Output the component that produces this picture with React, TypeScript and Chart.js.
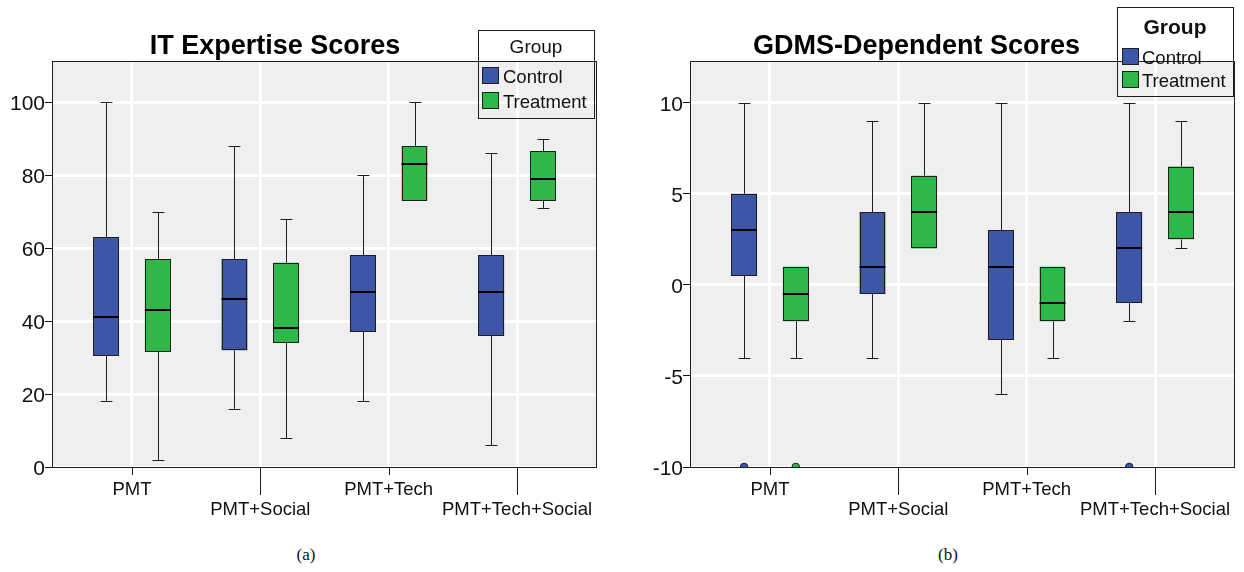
import React, { useEffect, useRef } from 'react';
import { Chart, registerables } from 'chart.js';

Chart.register(...registerables);

// ---------- data ----------
const categories = ['PMT', 'PMT+Social', 'PMT+Tech', 'PMT+Tech+Social'];
const groups = ['Control', 'Treatment'];

// (a) IT Expertise Scores
const itControlMin = [18, 16, 18, 6];
const itControlQ1 = [30.5, 32, 37, 36];
const itControlMedian = [41, 46, 48, 48];
const itControlQ3 = [63, 57, 58, 58];
const itControlMax = [100, 88, 80, 86];
const itControlOutliers: number[][] = [[], [], [], []];

const itTreatmentMin = [2, 8, 73, 71];
const itTreatmentQ1 = [31.5, 34, 73, 73];
const itTreatmentMedian = [43, 38, 83, 79];
const itTreatmentQ3 = [57, 56, 88, 86.5];
const itTreatmentMax = [70, 68, 100, 90];
const itTreatmentOutliers: number[][] = [[], [], [], []];

const itYTicks = [0, 20, 40, 60, 80, 100];

// (b) GDMS-Dependent Scores
const gdControlMin = [-4, -4, -6, -2];
const gdControlQ1 = [0.5, -0.5, -3, -1];
const gdControlMedian = [3, 1, 1, 2];
const gdControlQ3 = [5, 4, 3, 4];
const gdControlMax = [10, 9, 10, 10];
const gdControlOutliers: number[][] = [[-10], [], [], [-10]];

const gdTreatmentMin = [-4, 2, -4, 2];
const gdTreatmentQ1 = [-2, 2, -2, 2.5];
const gdTreatmentMedian = [-0.5, 4, -1, 4];
const gdTreatmentQ3 = [1, 6, 1, 6.5];
const gdTreatmentMax = [1, 10, 1, 9];
const gdTreatmentOutliers: number[][] = [[-10], [], [], []];

const gdYTicks = [-10, -5, 0, 5, 10];

// ---------- styling ----------
const FONT = "'Liberation Sans', Arial, Helvetica, sans-serif";
const COLORS = ['#3d56a8', '#2eb84a'];
const PLOT_BG = '#efefef';
const EDGE = '#1e1e1e';

interface Panel {
  title: string;
  titleX: number;
  titleY: number;
  yMin: number;
  yMax: number;
  yTicks: number[];
  yWidth: number;
  padRight: number;
  lo: number[][];
  q1: number[][];
  med: number[][];
  q3: number[][];
  hi: number[][];
  out: number[][][];
  legend: {
    x: number; y: number; w: number; h: number;
    headerX: number; headerY: number; headerBold: boolean; headerSize: number;
    swX: number; swY: number[]; sw: number; textX: number;
  };
}

const itPanel: Panel = {
  title: 'IT Expertise Scores',
  titleX: 275,
  titleY: 47,
  yMin: 0,
  yMax: 111,
  yTicks: itYTicks,
  yWidth: 53,
  padRight: 24,
  lo: [itControlMin, itTreatmentMin],
  q1: [itControlQ1, itTreatmentQ1],
  med: [itControlMedian, itTreatmentMedian],
  q3: [itControlQ3, itTreatmentQ3],
  hi: [itControlMax, itTreatmentMax],
  out: [itControlOutliers, itTreatmentOutliers],
  legend: {
    x: 478, y: 30, w: 116, h: 88,
    headerX: 536, headerY: 48, headerBold: false, headerSize: 19,
    swX: 482, swY: [67, 92], sw: 17, textX: 503,
  },
};

const gdPanel: Panel = {
  title: 'GDMS-Dependent Scores',
  titleX: 296.5,
  titleY: 47,
  yMin: -10,
  yMax: 12.24,
  yTicks: gdYTicks,
  yWidth: 71,
  padRight: 6,
  lo: [gdControlMin, gdTreatmentMin],
  q1: [gdControlQ1, gdTreatmentQ1],
  med: [gdControlMedian, gdTreatmentMedian],
  q3: [gdControlQ3, gdTreatmentQ3],
  hi: [gdControlMax, gdTreatmentMax],
  out: [gdControlOutliers, gdTreatmentOutliers],
  legend: {
    x: 497, y: 7, w: 116, h: 89,
    headerX: 555, headerY: 28, headerBold: true, headerSize: 21,
    swX: 502, swY: [48, 71], sw: 17, textX: 522,
  },
};

const xLabels = categories.map((c, i) => (i % 2 === 1 ? ['', c] : c));

function makePlugin(p: Panel) {
  return {
    id: 'boxExtras',
    beforeDraw(chart: any) {
      const { ctx, chartArea: a } = chart;
      ctx.save();
      ctx.fillStyle = PLOT_BG;
      ctx.fillRect(a.left, a.top, a.right - a.left, a.bottom - a.top);
      ctx.restore();
    },
    beforeDatasetsDraw(chart: any) {
      const { ctx } = chart;
      const ys = chart.scales.y;
      ctx.save();
      ctx.strokeStyle = EDGE;
      ctx.lineWidth = 1;
      for (let g = 0; g < groups.length; g++) {
        const meta = chart.getDatasetMeta(g);
        meta.data.forEach((el: any, i: number) => {
          const x = Math.round(el.x) + 0.5;
          const half = el.width * 0.23;
          const segs: [number, number][] = [];
          if (p.hi[g][i] > p.q3[g][i]) segs.push([p.hi[g][i], p.q3[g][i]]);
          if (p.lo[g][i] < p.q1[g][i]) segs.push([p.lo[g][i], p.q1[g][i]]);
          segs.forEach(([end, edge]) => {
            const ye = Math.round(ys.getPixelForValue(end)) + 0.5;
            const yb = ys.getPixelForValue(edge);
            ctx.beginPath();
            ctx.moveTo(x, ye);
            ctx.lineTo(x, yb);
            ctx.moveTo(x - half, ye);
            ctx.lineTo(x + half, ye);
            ctx.stroke();
          });
        });
      }
      ctx.restore();
    },
    afterDatasetsDraw(chart: any) {
      const { ctx, chartArea: a } = chart;
      const ys = chart.scales.y;
      ctx.save();
      // box outlines (crisp, dark)
      ctx.strokeStyle = EDGE;
      ctx.lineWidth = 1;
      for (let g = 0; g < groups.length; g++) {
        const meta = chart.getDatasetMeta(g);
        meta.data.forEach((el: any) => {
          const l = Math.round(el.x - el.width / 2) + 0.5;
          const r = Math.round(el.x + el.width / 2) - 0.5;
          const t = Math.round(Math.min(el.y, el.base)) + 0.5;
          const b = Math.round(Math.max(el.y, el.base)) - 0.5;
          ctx.strokeRect(l, t, r - l, b - t);
        });
      }
      // medians
      ctx.strokeStyle = '#000';
      ctx.lineWidth = 2;
      for (let g = 0; g < groups.length; g++) {
        const meta = chart.getDatasetMeta(g);
        meta.data.forEach((el: any, i: number) => {
          const y = Math.round(ys.getPixelForValue(p.med[g][i]));
          ctx.beginPath();
          ctx.moveTo(el.x - el.width / 2, y);
          ctx.lineTo(el.x + el.width / 2, y);
          ctx.stroke();
        });
      }
      // outliers (clipped to plot area)
      ctx.beginPath();
      ctx.rect(a.left, a.top, a.right - a.left, a.bottom - a.top);
      ctx.clip();
      ctx.lineWidth = 1;
      ctx.strokeStyle = EDGE;
      for (let g = 0; g < groups.length; g++) {
        const meta = chart.getDatasetMeta(g);
        meta.data.forEach((el: any, i: number) => {
          p.out[g][i].forEach((v) => {
            ctx.beginPath();
            ctx.arc(el.x, ys.getPixelForValue(v), 3.8, 0, Math.PI * 2);
            ctx.fillStyle = COLORS[g];
            ctx.fill();
            ctx.stroke();
          });
        });
      }
      ctx.restore();
    },
    afterDraw(chart: any) {
      const { ctx, chartArea: a } = chart;
      const xs = chart.scales.x;
      ctx.save();
      // frame
      ctx.strokeStyle = EDGE;
      ctx.lineWidth = 1;
      ctx.strokeRect(a.left - 0.5, a.top - 0.5, a.right - a.left + 1, a.bottom - a.top + 1);
      // staggered x tick marks
      categories.forEach((_, i) => {
        const x = Math.round(xs.getPixelForValue(i)) + 0.5;
        const len = i % 2 === 1 ? 28 : 8;
        ctx.beginPath();
        ctx.moveTo(x, a.bottom);
        ctx.lineTo(x, a.bottom + len);
        ctx.stroke();
      });
      // title
      ctx.fillStyle = '#000';
      ctx.font = `bold 27px ${FONT}`;
      ctx.textAlign = 'center';
      ctx.textBaseline = 'middle';
      ctx.fillText(p.title, p.titleX, p.titleY);
      // legend
      const L = p.legend;
      ctx.strokeStyle = EDGE;
      ctx.lineWidth = 1;
      ctx.strokeRect(L.x + 0.5, L.y + 0.5, L.w, L.h);
      ctx.font = `${L.headerBold ? 'bold ' : ''}${L.headerSize}px ${FONT}`;
      ctx.fillStyle = '#111';
      ctx.fillText('Group', L.headerX, L.headerY);
      ctx.textAlign = 'left';
      ctx.font = `18.5px ${FONT}`;
      chart.data.datasets.forEach((ds: any, g: number) => {
        const y = L.swY[g];
        ctx.fillStyle = COLORS[g];
        ctx.fillRect(L.swX, y, L.sw, L.sw);
        ctx.strokeStyle = EDGE;
        ctx.strokeRect(L.swX + 0.5, y + 0.5, L.sw - 1, L.sw - 1);
        ctx.fillStyle = '#111';
        ctx.fillText(ds.label, L.textX, y + L.sw / 2 + 2.5);
      });
      ctx.restore();
    },
  };
}

function buildConfig(p: Panel): any {
  return {
    type: 'bar',
    data: {
      datasets: groups.map((name, g) => ({
        label: name,
        data: categories.map((_, i) => ({ x: i, y: [p.q1[g][i], p.q3[g][i]] })),
        backgroundColor: COLORS[g],
        borderWidth: 0,
        borderSkipped: false,
        categoryPercentage: 0.805,
        barPercentage: 0.5,
      })),
    },
    options: {
      animation: false,
      responsive: false,
      events: [],
      layout: { padding: { top: 62, right: p.padRight, left: 0, bottom: 0 } },
      plugins: {
        legend: { display: false },
        title: { display: false },
        tooltip: { enabled: false },
      },
      scales: {
        x: {
          type: 'linear',
          min: -0.615,
          max: 3.615,
          offset: false,
          afterBuildTicks: (s: any) => {
            s.ticks = categories.map((_, i) => ({ value: i }));
          },
          afterFit: (s: any) => {
            s.height = 63;
          },
          ticks: {
            autoSkip: false,
            maxRotation: 0,
            minRotation: 0,
            padding: 13,
            color: '#111',
            font: { family: FONT, size: 18.5, lineHeight: '20px' },
            callback: (v: number) => xLabels[v],
          },
          grid: { color: '#ffffff', lineWidth: 3, drawTicks: false, offset: false },
          border: { display: false },
        },
        y: {
          type: 'linear',
          min: p.yMin,
          max: p.yMax,
          afterBuildTicks: (s: any) => {
            s.ticks = p.yTicks.map((v) => ({ value: v }));
          },
          afterFit: (s: any) => {
            s.width = p.yWidth;
          },
          ticks: {
            padding: 0,
            labelOffset: 2,
            color: '#111',
            font: { family: FONT, size: 21 },
            callback: (v: number) => String(v),
          },
          grid: {
            color: '#ffffff',
            lineWidth: 3,
            drawTicks: true,
            tickLength: 8,
            tickColor: '#111',
            tickWidth: 1,
          },
          border: { display: false },
        },
      },
    },
    plugins: [makePlugin(p)],
  };
}

const captionStyle = (left: number): React.CSSProperties => ({
  position: 'absolute',
  left,
  top: 545,
  width: 200,
  textAlign: 'center',
  fontFamily: "'Liberation Serif', 'Times New Roman', serif",
  fontSize: 17,
  lineHeight: '20px',
  color: '#111',
});

export default function App() {
  const leftRef = useRef<HTMLCanvasElement>(null);
  const rightRef = useRef<HTMLCanvasElement>(null);

  useEffect(() => {
    const c1 = new Chart(leftRef.current as HTMLCanvasElement, buildConfig(itPanel));
    const c2 = new Chart(rightRef.current as HTMLCanvasElement, buildConfig(gdPanel));
    return () => {
      c1.destroy();
      c2.destroy();
    };
  }, []);

  return (
    <div
      style={{
        position: 'absolute',
        left: 0,
        top: 0,
        width: 1244,
        height: 572,
        background: '#ffffff',
        overflow: 'hidden',
      }}
    >
      <canvas ref={leftRef} width={620} height={530} style={{ position: 'absolute', left: 0, top: 0 }} />
      <canvas ref={rightRef} width={624} height={530} style={{ position: 'absolute', left: 620, top: 0 }} />
      <div style={captionStyle(206)}>(a)</div>
      <div style={captionStyle(848)}>(b)</div>
    </div>
  );
}
